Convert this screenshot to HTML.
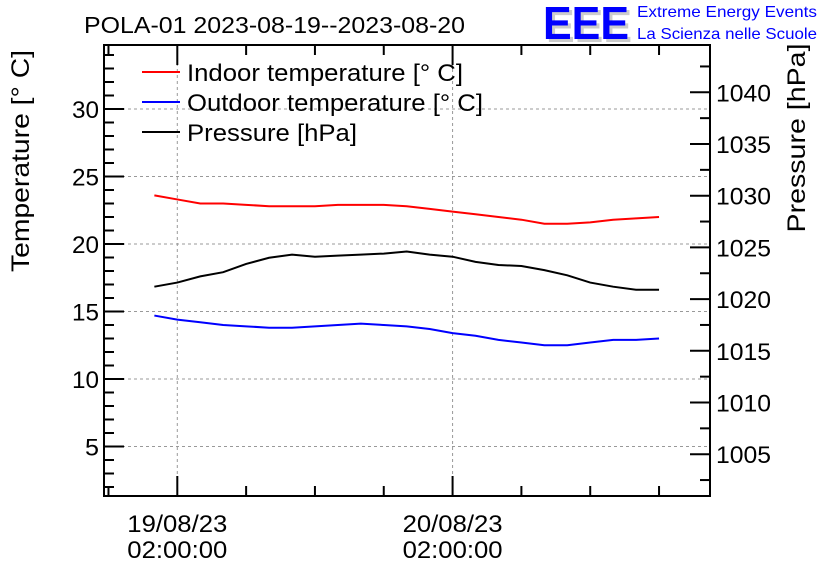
<!DOCTYPE html>
<html><head><meta charset="utf-8"><style>
body{margin:0;background:#fff}
svg{display:block;font-family:"Liberation Sans",Arial,sans-serif}
</style></head><body>
<svg id="c" width="836" height="572" viewBox="0 0 836 572">
<text x="84" y="33" font-size="23" textLength="381" lengthAdjust="spacingAndGlyphs">POLA-01 2023-08-19--2023-08-20</text>
<g>
<text x="546" y="42" font-size="46" fill="#ccc" font-weight="bold" textLength="86" lengthAdjust="spacingAndGlyphs">EEE</text>
<text x="543" y="39" font-size="46" fill="#00f" font-weight="bold" textLength="86" lengthAdjust="spacingAndGlyphs">EEE</text>
<text x="637" y="17" font-size="16" fill="#00f" textLength="180" lengthAdjust="spacingAndGlyphs">Extreme Energy Events</text>
<text x="637" y="39" font-size="16" fill="#00f" textLength="180" lengthAdjust="spacingAndGlyphs">La Scienza nelle Scuole</text>
</g>
<g id="grid"></g>
<g id="axes"></g>
<g id="series"></g>
<g>
<line x1="142" y1="72" x2="180" y2="72" stroke="#f00" stroke-width="2"/>
<text x="187" y="81" font-size="24" textLength="276" lengthAdjust="spacingAndGlyphs">Indoor temperature [° C]</text>
<line x1="142" y1="102" x2="180" y2="102" stroke="#00f" stroke-width="2"/>
<text x="187" y="111" font-size="24" textLength="296" lengthAdjust="spacingAndGlyphs">Outdoor temperature [° C]</text>
<line x1="142" y1="132" x2="180" y2="132" stroke="#000" stroke-width="2"/>
<text x="187" y="141" font-size="24" textLength="170" lengthAdjust="spacingAndGlyphs">Pressure [hPa]</text>
</g>
<text transform="translate(29,161) rotate(-90)" text-anchor="middle" font-size="25" textLength="222" lengthAdjust="spacingAndGlyphs">Temperature [° C]</text>
<text transform="translate(805,138) rotate(-90)" text-anchor="middle" font-size="25" textLength="189" lengthAdjust="spacingAndGlyphs">Pressure [hPa]</text>
</svg>
<script>
const hours=[-2,0,2,4,6,8,10,12,14,16,18,20,22,24,26,28,30,32,34,36,38,40,42];
const indoor=[23.6,23.3,23.0,23.0,22.9,22.8,22.8,22.8,22.9,22.9,22.9,22.8,22.6,22.4,22.2,22.0,21.8,21.5,21.5,21.6,21.8,21.9,22.0];
const outdoor=[14.7,14.4,14.2,14.0,13.9,13.8,13.8,13.9,14.0,14.1,14.0,13.9,13.7,13.4,13.2,12.9,12.7,12.5,12.5,12.7,12.9,12.9,13.0];
const pressure=[1021.2,1021.6,1022.2,1022.6,1023.4,1024.0,1024.3,1024.1,1024.2,1024.3,1024.4,1024.6,1024.3,1024.1,1023.6,1023.3,1023.2,1022.8,1022.3,1021.6,1021.2,1020.9,1020.9];
const tempTicks=[5,10,15,20,25,30];
const presTicks=[1005,1010,1015,1020,1025,1030,1035,1040];
const xTickLabels=[["19/08/23","02:00:00"],["20/08/23","02:00:00"]];
const xTickHours=[0,24];

const L=104,R=710,T=45,B=496;
const xs=h=>177.3+h*11.47;
const yt=v=>109+(30-v)*13.5;
const yp=v=>92.3+(1040-v)*10.34;
const NS="http://www.w3.org/2000/svg";
function mk(tag,attrs,parent){const e=document.createElementNS(NS,tag);for(const k in attrs)e.setAttribute(k,attrs[k]);parent.appendChild(e);return e;}
const grid=document.getElementById('grid'),axes=document.getElementById('axes'),ser=document.getElementById('series');
tempTicks.forEach(v=>{const g=mk('line',{x1:L,x2:R,y1:yt(v),y2:yt(v),stroke:'#999','stroke-dasharray':'3,3'},grid);

});
xTickHours.forEach(h=>{const g=mk('line',{x1:xs(h),x2:xs(h),y1:T,y2:B,stroke:'#999','stroke-dasharray':'3,3'},grid);

});
const fr=mk('rect',{x:L,y:T,width:R-L,height:B-T,fill:'none',stroke:'#000','stroke-width':2},axes);


for(let v=2;v<=34;v++){const maj=v%5==0;mk('line',{x1:L,x2:L+(maj?20:10),y1:yt(v),y2:yt(v),stroke:'#000','stroke-width':2},axes);}
tempTicks.forEach(v=>{const t=mk('text',{x:99,y:yt(v)+9,'text-anchor':'end','font-size':24,textLength:v<10?14:27,lengthAdjust:'spacingAndGlyphs'},axes);t.textContent=v;

});
for(let v=1002.5;v<=1042.5;v+=2.5){const maj=v%5==0;mk('line',{x1:R,x2:R-(maj?20:10),y1:yp(v),y2:yp(v),stroke:'#000','stroke-width':2},axes);}
presTicks.forEach(v=>{const t=mk('text',{x:716,y:yp(v)+9,'font-size':24,textLength:55,lengthAdjust:'spacingAndGlyphs'},axes);t.textContent=v;

});
for(let h=-12;h<=48;h+=6){const x=xs(h);if(x<L||x>R)continue;const maj=h%24==0;
mk('line',{x1:x,x2:x,y1:B,y2:B-(maj?20:10),stroke:'#000','stroke-width':2},axes);
mk('line',{x1:x,x2:x,y1:T,y2:T+(maj?20:10),stroke:'#000','stroke-width':2},axes);}
xTickHours.forEach((h,i)=>{xTickLabels[i].forEach((s,j)=>{const t=mk('text',{x:xs(h),y:532+j*26,'text-anchor':'middle','font-size':24,textLength:100,lengthAdjust:'spacingAndGlyphs'},axes);t.textContent=s;

});});
function line(vals,fy,col,name){const p=mk('polyline',{points:hours.map((h,i)=>xs(h)+','+fy(vals[i])).join(' '),fill:'none',stroke:col,'stroke-width':2},ser);

}
line(indoor,yt,'#f00','indoor-temperature-line');
line(outdoor,yt,'#00f','outdoor-temperature-line');
line(pressure,yp,'#000','pressure-line');
</script>
</body></html>
